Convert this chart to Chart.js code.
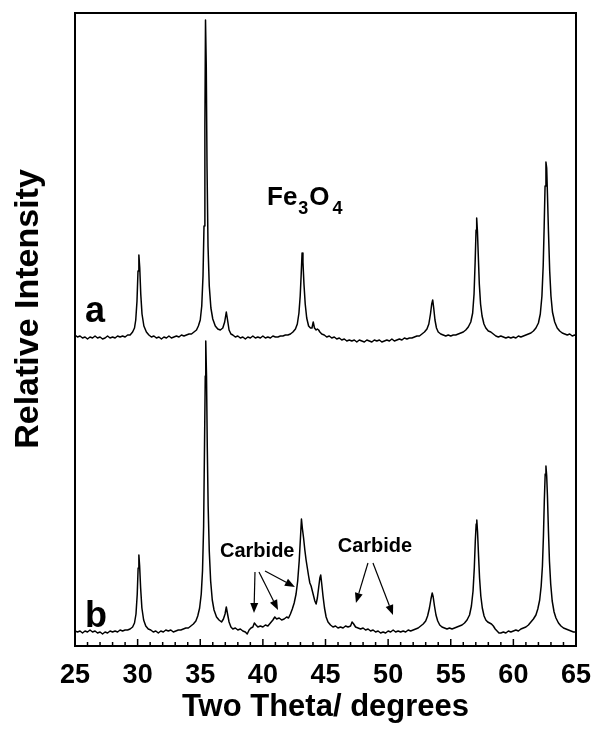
<!DOCTYPE html>
<html>
<head>
<meta charset="utf-8">
<script src="https://cdn.jsdelivr.net/npm/chart.js@4.4.1/dist/chart.umd.min.js"></script>
<style>
  body { margin: 0; background: #fff; }
  canvas { display: block; }
</style>
</head>
<body>
<canvas id="xrd" width="600" height="747"></canvas>
<script>
// trace a (upper, offset) - two theta / relative intensity
const aTheta = [25.0,25.2,25.4,25.6,25.8,26.0,26.2,26.4,26.6,26.8,27.0,27.2,27.4,27.6,27.8,28.0,28.2,28.4,28.6,28.8,
  29.0,29.2,29.4,29.6,29.75,29.85,29.95,30.03,30.1,30.17,30.25,30.35,30.5,30.7,30.9,31.1,31.3,31.5,31.7,31.9,
  32.1,32.3,32.5,32.7,32.9,33.1,33.3,33.5,33.7,33.9,34.1,34.3,34.5,34.7,34.85,35.0,35.12,35.22,35.3,35.37,
  35.42,35.48,35.54,35.62,35.72,35.85,36.0,36.2,36.4,36.6,36.8,36.95,37.08,37.18,37.3,37.45,37.6,37.8,38.0,38.2,
  38.4,38.6,38.8,39.0,39.2,39.4,39.6,39.8,40.0,40.2,40.4,40.6,40.8,41.0,41.2,41.4,41.6,41.8,42.0,42.2,
  42.4,42.6,42.75,42.88,42.98,43.06,43.13,43.2,43.28,43.38,43.5,43.65,43.8,43.92,44.02,44.12,44.25,44.35,44.45,44.55,
  44.7,44.9,45.1,45.3,45.5,45.7,45.9,46.1,46.3,46.5,46.7,46.9,47.1,47.3,47.5,47.7,47.9,48.1,48.3,48.5,
  48.7,48.9,49.1,49.3,49.5,49.7,49.9,50.1,50.3,50.5,50.7,50.9,51.1,51.3,51.5,51.7,51.9,52.1,52.3,52.5,
  52.7,52.9,53.1,53.25,53.38,53.48,53.56,53.64,53.74,53.86,54.0,54.2,54.4,54.6,54.8,55.0,55.2,55.4,55.6,55.8,
  56.0,56.2,56.4,56.6,56.75,56.86,56.95,57.02,57.07,57.13,57.2,57.28,57.38,57.5,57.65,57.8,58.0,58.2,58.4,58.6,
  58.8,59.0,59.2,59.4,59.6,59.8,60.0,60.2,60.4,60.6,60.8,61.0,61.2,61.4,61.6,61.8,62.0,62.15,62.28,62.38,
  62.46,62.53,62.6,62.66,62.72,62.8,62.9,63.0,63.12,63.3,63.5,63.7,63.9,64.1,64.3,64.5,64.7,64.9,65.0];
const aCounts = [311,309,310,308,309,307,309,308,310,308,309,307,308,310,308,309,308,310,309,310,
  309,311,311,314,318,326,345,375,391,378,352,332,320,314,311,309,310,308,309,307,
  309,308,310,308,309,310,309,311,310,311,312,312,314,316,320,326,340,370,420,520,
  626,580,480,400,360,338,327,320,317,316,318,324,334,326,316,312,311,309,310,308,
  309,307,309,308,310,308,309,308,310,308,309,308,310,309,309,310,310,311,311,312,
  314,317,322,333,350,372,393,384,362,342,328,320,318,318,324,318,316,317,316,314,
  312,311,309,310,308,309,307,308,306,307,305,306,305,306,304,306,305,304,306,305,
  304,306,305,306,304,305,306,305,307,305,306,307,306,308,307,308,308,309,310,310,
  312,314,317,322,332,342,346,338,326,318,314,312,311,310,311,310,311,311,312,313,
  314,316,319,324,333,352,385,416,428,415,390,362,342,330,322,318,315,314,312,310,
  309,310,309,308,309,308,309,308,310,309,310,311,312,313,315,318,323,332,350,380,
  420,460,484,478,452,415,375,350,334,324,318,315,313,312,311,312,310,311,310];

// trace b (lower)
const bTheta = [25.0,25.2,25.4,25.6,25.8,26.0,26.2,26.4,26.6,26.8,27.0,27.2,27.4,27.6,27.8,28.0,28.2,28.4,28.6,28.8,
  29.0,29.2,29.4,29.6,29.75,29.87,29.97,30.04,30.1,30.16,30.24,30.34,30.48,30.65,30.85,31.05,31.25,31.45,31.65,31.85,
  32.05,32.25,32.45,32.65,32.85,33.05,33.25,33.45,33.65,33.85,34.05,34.25,34.45,34.65,34.8,34.95,35.08,35.18,35.27,35.34,
  35.4,35.44,35.5,35.56,35.63,35.72,35.83,35.96,36.1,36.3,36.5,36.7,36.85,36.98,37.08,37.18,37.3,37.45,37.6,37.8,
  38.0,38.2,38.4,38.6,38.75,38.9,39.05,39.2,39.32,39.45,39.6,39.8,40.0,40.2,40.4,40.6,40.8,40.95,41.1,41.3,
  41.5,41.7,41.9,42.05,42.2,42.35,42.5,42.65,42.78,42.9,43.0,43.08,43.15,43.25,43.35,43.45,43.55,43.65,43.75,43.85,
  43.95,44.05,44.15,44.25,44.35,44.45,44.55,44.62,44.7,44.8,44.92,45.05,45.2,45.4,45.6,45.8,46.0,46.2,46.4,46.6,
  46.8,47.0,47.12,47.25,47.4,47.6,47.8,48.0,48.2,48.4,48.6,48.8,49.0,49.2,49.4,49.6,49.8,50.0,50.2,50.4,
  50.6,50.8,51.0,51.2,51.4,51.6,51.8,52.0,52.2,52.4,52.6,52.8,53.0,53.15,53.3,53.42,53.52,53.6,53.7,53.82,
  53.96,54.12,54.3,54.5,54.7,54.9,55.1,55.3,55.5,55.7,55.9,56.1,56.3,56.5,56.65,56.78,56.88,56.96,57.03,57.08,
  57.14,57.22,57.3,57.4,57.52,57.66,57.8,57.95,58.1,58.25,58.4,58.55,58.7,58.85,59.0,59.2,59.4,59.6,59.8,60.0,
  60.2,60.4,60.6,60.8,61.0,61.2,61.4,61.6,61.8,61.95,62.1,62.22,62.32,62.4,62.47,62.54,62.6,62.66,62.72,62.8,
  62.88,62.98,63.1,63.25,63.4,63.6,63.8,64.0,64.2,64.4,64.6,64.8,65.0];
const bCounts = [15,14,15,13,15,14,16,14,15,13,14,12,14,13,15,14,15,14,16,15,
  16,16,17,19,23,32,52,78,91,80,58,38,26,20,17,16,14,15,13,15,
  14,16,15,16,14,15,16,16,17,18,18,20,22,25,30,38,52,75,120,200,
  270,305,270,200,140,95,65,46,36,29,26,24,27,32,39,32,24,19,17,18,
  16,17,15,14,12,16,18,19,23,21,19,20,19,21,20,23,26,29,27,28,
  26,27,29,28,32,37,43,52,65,85,108,127,118,108,96,86,78,70,63,60,
  55,50,45,42,48,58,68,71,62,50,38,29,24,21,19,20,18,19,18,20,
  19,20,24,22,19,18,17,18,16,17,15,16,14,15,13,14,13,15,14,16,
  14,15,14,15,14,16,15,16,17,18,20,22,25,30,38,47,53,49,40,31,
  25,21,19,18,17,18,17,18,19,20,21,23,26,31,40,55,78,105,122,126,
  114,90,68,50,38,30,26,24,23,22,20,17,15,13,13,14,13,15,14,15,
  16,15,17,18,19,21,24,27,31,37,46,60,80,110,145,172,180,170,150,115,
  85,62,45,34,28,23,20,18,17,16,15,14,14];

const xTicks = [25, 30, 35, 40, 45, 50, 55, 60, 65];

const font = '"Liberation Sans", Arial, Helvetica, sans-serif';

// text and arrows placed in data coordinates (theta, counts)
const carbideLabels = [
  { text: 'Carbide', theta: 39.55, y: 89 },
  { text: 'Carbide', theta: 48.95, y: 94 }
];
const carbideArrows = [
  [39.37, 74, 39.29, 33],
  [39.69, 74, 41.21, 36],
  [40.17, 75, 42.56, 59],
  [48.39, 83, 47.43, 43],
  [48.79, 83, 50.39, 31]
];

function toPoints(xs, ys) {
  return xs.map((t, i) => ({ x: t, y: ys[i] }));
}

function arrow(ctx, x1, y1, x2, y2) {
  const ang = Math.atan2(y2 - y1, x2 - x1);
  const len = 10, half = 4;
  const bx = x2 - len * Math.cos(ang), by = y2 - len * Math.sin(ang);
  ctx.beginPath();
  ctx.moveTo(x1, y1);
  ctx.lineTo(bx, by);
  ctx.stroke();
  ctx.beginPath();
  ctx.moveTo(x2, y2);
  ctx.lineTo(bx + half * Math.sin(ang), by - half * Math.cos(ang));
  ctx.lineTo(bx - half * Math.sin(ang), by + half * Math.cos(ang));
  ctx.closePath();
  ctx.fill();
}

const decorations = {
  id: 'decorations',
  afterDatasetsDraw(chart) {
    const { ctx, chartArea: area, scales: { x, y } } = chart;
    ctx.save();
    ctx.strokeStyle = '#000';
    ctx.fillStyle = '#000';

    // box
    ctx.lineWidth = 2;
    ctx.strokeRect(area.left, area.top, area.right - area.left, area.bottom - area.top);

    // inward ticks on the bottom axis
    ctx.lineWidth = 1.5;
    x.ticks.forEach(t => {
      const px = x.getPixelForValue(t.value);
      const len = xTicks.includes(t.value) ? 7 : 4;
      ctx.beginPath();
      ctx.moveTo(px, area.bottom);
      ctx.lineTo(px, area.bottom - len);
      ctx.stroke();
    });

    // trace labels
    ctx.font = 'bold 36px ' + font;
    ctx.textAlign = 'left';
    ctx.textBaseline = 'alphabetic';
    ctx.fillText('a', x.getPixelForValue(25.8), y.getPixelForValue(324));
    ctx.fillText('b', x.getPixelForValue(25.8), y.getPixelForValue(19));

    // Fe3O4
    let fx = x.getPixelForValue(40.33);
    const fy = y.getPixelForValue(441);
    ctx.font = 'bold 26px ' + font;
    ctx.fillText('Fe', fx, fy);
    fx += ctx.measureText('Fe').width + 1;
    ctx.font = 'bold 18px ' + font;
    ctx.fillText('3', fx, fy + 9);
    fx += ctx.measureText('3').width + 1;
    ctx.font = 'bold 26px ' + font;
    ctx.fillText('O', fx, fy);
    fx += ctx.measureText('O').width + 3;
    ctx.font = 'bold 18px ' + font;
    ctx.fillText('4', fx, fy + 9);

    // carbide labels and arrows
    ctx.font = 'bold 20px ' + font;
    ctx.textAlign = 'center';
    carbideLabels.forEach(l => {
      ctx.fillText(l.text, x.getPixelForValue(l.theta), y.getPixelForValue(l.y));
    });
    ctx.lineWidth = 1.2;
    carbideArrows.forEach(a => {
      arrow(ctx, x.getPixelForValue(a[0]), y.getPixelForValue(a[1]),
                 x.getPixelForValue(a[2]), y.getPixelForValue(a[3]));
    });

    // y axis title
    ctx.translate(29, 309);
    ctx.rotate(-Math.PI / 2);
    ctx.font = 'bold 34px ' + font;
    ctx.textAlign = 'center';
    ctx.textBaseline = 'middle';
    ctx.fillText('Relative Intensity', 0, 0);
    ctx.restore();
  }
};

new Chart(document.getElementById('xrd'), {
  type: 'line',
  data: {
    datasets: [
      { label: 'a', data: toPoints(aTheta, aCounts), borderColor: '#000', borderWidth: 1.5, borderJoinStyle: 'round', pointRadius: 0, tension: 0 },
      { label: 'b', data: toPoints(bTheta, bCounts), borderColor: '#000', borderWidth: 1.5, borderJoinStyle: 'round', pointRadius: 0, tension: 0 }
    ]
  },
  options: {
    responsive: false,
    animation: false,
    layout: { padding: { top: 13, right: 24, left: 0, bottom: 0 } },
    plugins: { legend: { display: false }, tooltip: { enabled: false } },
    scales: {
      x: {
        type: 'linear',
        min: 25,
        max: 65,
        afterFit: s => { s.height = 101; s.paddingLeft = 0; s.paddingRight = 0; },
        grid: { display: false },
        border: { display: false },
        ticks: {
          stepSize: 1,
          autoSkip: false,
          maxRotation: 0,
          padding: 5,
          color: '#000',
          font: { family: font, size: 27, weight: 'bold' },
          callback: v => xTicks.includes(v) ? String(v) : ''
        },
        title: {
          display: true,
          text: 'Two Theta/ degrees',
          color: '#000',
          font: { family: font, size: 31, weight: 'bold' },
          padding: { top: 0, bottom: 21 }
        }
      },
      y: {
        min: 0,
        max: 633,
        afterFit: s => { s.width = 75; },
        grid: { display: false },
        border: { display: false },
        ticks: { display: false }
      }
    }
  },
  plugins: [decorations]
});
</script>
</body>
</html>
